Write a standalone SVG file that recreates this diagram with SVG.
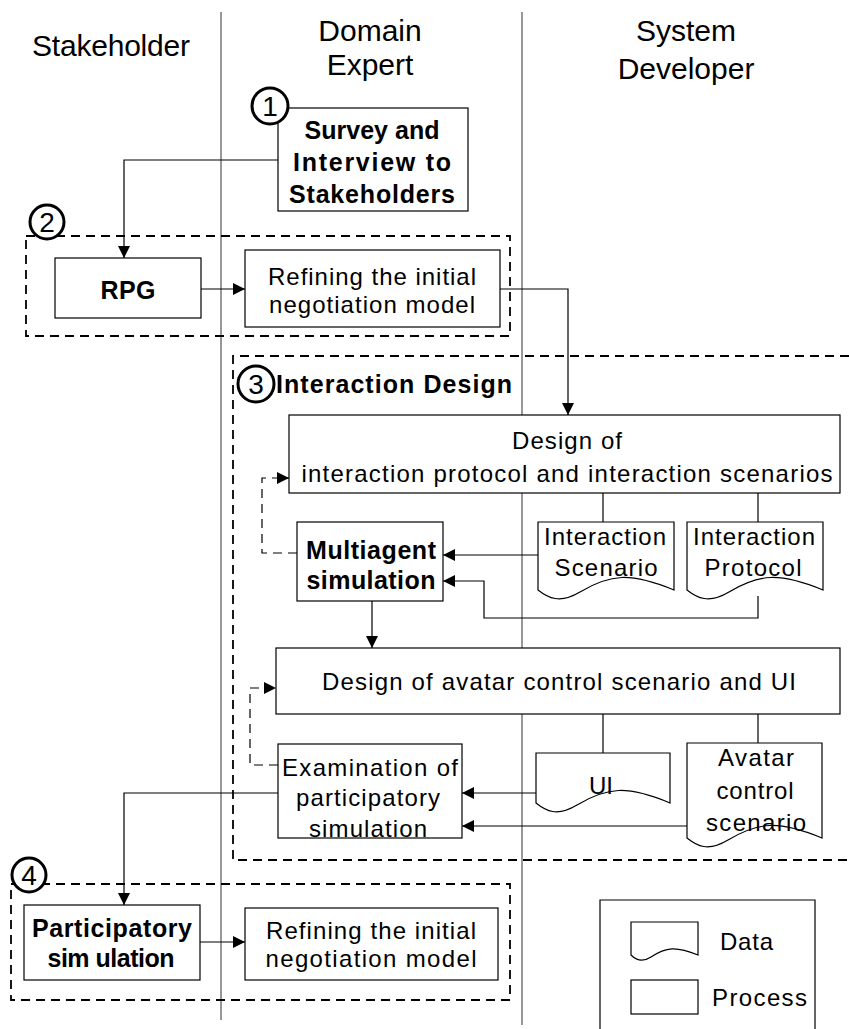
<svg xmlns="http://www.w3.org/2000/svg" width="849" height="1029" viewBox="0 0 849 1029">
  <defs>
    <marker id="arrow" viewBox="0 0 10 10" refX="10" refY="5" markerWidth="12" markerHeight="12" markerUnits="userSpaceOnUse" orient="auto">
      <path d="M0,0 L10,5 L0,10 Z" fill="#000"/>
    </marker>
  </defs>
  <style>
    text { font-family: "Liberation Sans", Arial, sans-serif; fill: #000; }
    .head { font-size: 30px; text-anchor: middle; }
    .lbl { font-size: 24px; text-anchor: middle; }
    .bold { font-weight: bold; font-size: 25px; }
    .box { fill: #fff; stroke: #000; stroke-width: 1.2; }
    .lane { stroke: #333; stroke-width: 1; fill: none; }
    .grp { fill: none; stroke: #000; stroke-width: 1.8; stroke-dasharray: 9 6; }
    .num { fill: #fff; stroke: #000; stroke-width: 3; }
    .numtxt { font-size: 28px; text-anchor: middle; }
    .conn { fill: none; stroke: #000; stroke-width: 1.2; }
    .dash { fill: none; stroke: #000; stroke-width: 1.2; stroke-dasharray: 9 6; }
  </style>

  <rect width="849" height="1029" fill="#fff"/>

  <!-- swimlane headers and separators -->
  <g id="lanes">
    <line class="lane" x1="221" y1="12" x2="221" y2="1020"/>
    <line class="lane" x1="522" y1="12" x2="522" y2="1025"/>
    <text class="head" x="111" y="56" textLength="158">Stakeholder</text>
    <text class="head" x="370" y="41">Domain</text>
    <text class="head" x="370" y="75">Expert</text>
    <text class="head" x="686" y="41">System</text>
    <text class="head" x="686" y="79">Developer</text>
  </g>

  <!-- phase frames -->
  <g id="phase2">
    <rect class="grp" x="26" y="236" width="484" height="100"/>
  </g>
  <g id="phase3">
    <path class="grp" d="M849,356 H233 V860 H849"/>
  </g>
  <g id="phase4">
    <rect class="grp" x="11" y="884" width="499" height="116"/>
  </g>

  <!-- connectors -->
  <g id="connectors">
    <path class="conn" d="M278,160 H124 V258" marker-end="url(#arrow)"/>
    <path class="conn" d="M201,289 H245" marker-end="url(#arrow)"/>
    <path class="conn" d="M500,289 H568 V415" marker-end="url(#arrow)"/>
    <line class="conn" x1="603" y1="493" x2="603" y2="522"/>
    <line class="conn" x1="758" y1="493" x2="758" y2="522"/>
    <path class="conn" d="M538,555 H443" marker-end="url(#arrow)"/>
    <path class="conn" d="M758,596 V618 H484 V581 H443" marker-end="url(#arrow)"/>
    <path class="dash" d="M297,553 H262 V478 H289" marker-end="url(#arrow)"/>
    <path class="conn" d="M372,601 V648" marker-end="url(#arrow)"/>
    <line class="conn" x1="603" y1="714" x2="603" y2="753"/>
    <line class="conn" x1="758" y1="714" x2="758" y2="743"/>
    <path class="conn" d="M536,793 H462" marker-end="url(#arrow)"/>
    <path class="conn" d="M687,826 H462" marker-end="url(#arrow)"/>
    <path class="dash" d="M278,765 H250 V688 H276" marker-end="url(#arrow)"/>
    <path class="conn" d="M278,793 H124 V905" marker-end="url(#arrow)"/>
    <path class="conn" d="M200,942 H245" marker-end="url(#arrow)"/>
  </g>

  <!-- step 1 -->
  <g id="survey">
    <rect class="box" x="278" y="108" width="190" height="103"/>
    <text class="lbl bold" x="372" y="139" textLength="135">Survey and</text>
    <text class="lbl bold" x="372" y="171" textLength="158">Interview to</text>
    <text class="lbl bold" x="372" y="203" textLength="166">Stakeholders</text>
  </g>
  <g id="num1">
    <circle class="num" cx="270" cy="106" r="18"/>
    <text class="numtxt" x="270" y="116">1</text>
  </g>

  <!-- step 2 -->
  <g id="num2">
    <circle class="num" cx="47" cy="222" r="17"/>
    <text class="numtxt" x="47" y="232">2</text>
  </g>
  <g id="rpg">
    <rect class="box" x="55" y="258" width="146" height="60"/>
    <text class="lbl bold" x="128" y="299" textLength="55">RPG</text>
  </g>
  <g id="refine1">
    <rect class="box" x="245" y="250" width="255" height="77"/>
    <text class="lbl" x="372" y="285" textLength="208">Refining the initial</text>
    <text class="lbl" x="372" y="313" textLength="206">negotiation model</text>
  </g>

  <!-- step 3 -->
  <g id="num3">
    <circle class="num" cx="256" cy="384" r="18"/>
    <text class="numtxt" x="256" y="394">3</text>
    <text class="lbl bold" x="276" y="393" style="text-anchor:start" textLength="236">Interaction Design</text>
  </g>
  <g id="design1">
    <rect class="box" x="289" y="415" width="551" height="78"/>
    <text class="lbl" x="567" y="449" textLength="110">Design of</text>
    <text class="lbl" x="567" y="482" textLength="531">interaction protocol and interaction scenarios</text>
  </g>
  <g id="multiagent">
    <rect class="box" x="297" y="522" width="146" height="79"/>
    <text class="lbl bold" x="371" y="559" textLength="130">Multiagent</text>
    <text class="lbl bold" x="371" y="589" textLength="129">simulation</text>
  </g>
  <g id="scenario">
    <path class="box" d="M538,522 H674 V590 C630,572 610,574 580,592 C560,604 548,598 538,590 Z"/>
    <text class="lbl" x="605" y="545" textLength="122">Interaction</text>
    <text class="lbl" x="606" y="576" textLength="103">Scenario</text>
  </g>
  <g id="protocol">
    <path class="box" d="M687,522 H823 V590 C779,572 759,574 729,592 C709,604 697,598 687,590 Z"/>
    <text class="lbl" x="754" y="545" textLength="122">Interaction</text>
    <text class="lbl" x="753" y="576" textLength="97">Protocol</text>
  </g>
  <g id="design2">
    <rect class="box" x="276" y="648" width="564" height="66"/>
    <text class="lbl" x="559" y="690" textLength="474">Design of avatar control scenario and UI</text>
  </g>
  <g id="examination">
    <rect class="box" x="278" y="744" width="184" height="94"/>
    <text class="lbl" x="370" y="776" textLength="176">Examination of</text>
    <text class="lbl" x="368" y="806" textLength="144">participatory</text>
    <text class="lbl" x="368" y="837" textLength="118">simulation</text>
  </g>
  <g id="ui">
    <path class="box" d="M536,753 H670 V803 C627,785 607,787 577,805 C557,817 546,811 536,803 Z"/>
    <text class="lbl" x="601" y="794" textLength="24">UI</text>
  </g>
  <g id="avatar">
    <path class="box" d="M687,743 H822 V838 C778,820 758,822 728,840 C708,852 697,846 687,838 Z"/>
    <text class="lbl" x="756" y="766" textLength="76">Avatar</text>
    <text class="lbl" x="755" y="799" textLength="77">control</text>
    <text class="lbl" x="756" y="831" textLength="100">scenario</text>
  </g>

  <!-- step 4 -->
  <g id="num4">
    <circle class="num" cx="29" cy="875" r="17"/>
    <text class="numtxt" x="29" y="885">4</text>
  </g>
  <g id="participatory">
    <rect class="box" x="24" y="905" width="176" height="75"/>
    <text class="lbl bold" x="112" y="937" textLength="160">Participatory</text>
    <text class="lbl bold" x="111" y="967" textLength="127">sim ulation</text>
  </g>
  <g id="refine2">
    <rect class="box" x="245" y="908" width="253" height="72"/>
    <text class="lbl" x="371" y="939" textLength="210">Refining the initial</text>
    <text class="lbl" x="371" y="967" textLength="211">negotiation model</text>
  </g>

  <!-- legend -->
  <g id="legend">
    <path class="box" d="M600,1029 V900 H815 V1029"/>
    <path class="box" d="M631,922 H698 V955 C676,946 666,947 651,957 C642,963 636,960 631,955 Z"/>
    <text class="lbl" x="720" y="950" style="text-anchor:start" textLength="53">Data</text>
    <rect class="box" x="631" y="980" width="67" height="34"/>
    <text class="lbl" x="712" y="1006" style="text-anchor:start" textLength="95">Process</text>
  </g>
</svg>
